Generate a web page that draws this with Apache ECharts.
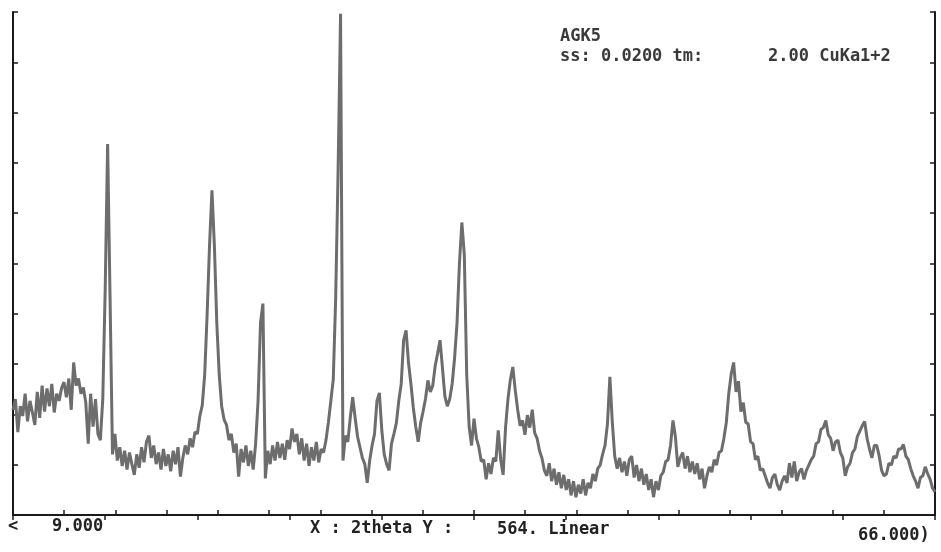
<!DOCTYPE html>
<html>
<head>
<meta charset="utf-8">
<script src="https://cdn.jsdelivr.net/npm/echarts@6/dist/echarts.min.js"></script>
<style>
  html, body { margin: 0; padding: 0; background: #fff; }
  #chart { width: 941px; height: 552px; }
</style>
</head>
<body>
<div id="chart"></div>
<script>
// scan settings (2theta start / end / step) and full scale
const startAngle = 9
const endAngle = 66
const stepSize = 0.15
const yFullScale = 564

// counts, one per step
const counts = [
  118, 130, 93, 122, 111, 136, 105, 128, 115, 101,
  138, 109, 145, 116, 142, 122, 147, 115, 136, 128,
  142, 149, 132, 153, 118, 171, 145, 153, 136, 143,
  126, 80, 136, 99, 130, 91, 84, 130, 253, 416,
  244, 68, 91, 61, 76, 55, 72, 51, 70, 57,
  45, 68, 53, 76, 59, 82, 89, 64, 78, 57,
  70, 51, 74, 55, 68, 49, 72, 57, 76, 43,
  64, 78, 68, 86, 76, 93, 91, 111, 123, 157,
  224, 302, 364, 302, 215, 157, 122, 107, 101, 84,
  91, 70, 80, 43, 74, 59, 78, 55, 72, 51,
  80, 128, 215, 237, 41, 72, 57, 78, 61, 82,
  64, 80, 62, 84, 74, 97, 82, 91, 68, 86,
  61, 80, 55, 76, 61, 82, 59, 74, 70, 84,
  104, 128, 152, 244, 388, 562, 61, 89, 82, 109,
  132, 109, 88, 76, 64, 57, 36, 61, 78, 91,
  128, 137, 95, 68, 57, 50, 80, 91, 103, 128,
  147, 196, 207, 171, 147, 120, 99, 82, 103, 116,
  130, 151, 138, 145, 167, 181, 196, 165, 133, 122,
  130, 147, 176, 215, 282, 328, 292, 157, 99, 78,
  108, 86, 76, 60, 62, 40, 58, 46, 64, 60,
  95, 62, 45, 98, 130, 152, 166, 140, 118, 100,
  106, 90, 112, 98, 118, 92, 86, 72, 64, 50,
  44, 58, 38, 52, 34, 48, 30, 45, 28, 40,
  22, 38, 20, 34, 24, 40, 22, 36, 30, 46,
  38, 52, 56, 68, 78, 102, 155, 104, 66, 52,
  64, 48, 60, 44, 62, 66, 42, 56, 38, 52,
  34, 46, 28, 40, 20, 38, 28, 44, 48, 60,
  62, 78, 106, 88, 54, 64, 70, 52, 66, 48,
  60, 46, 58, 40, 52, 30, 44, 54, 48, 62,
  56, 70, 72, 86, 104, 136, 158, 171, 138, 150,
  116, 126, 104, 102, 82, 80, 62, 66, 50, 52,
  44, 36, 30, 42, 46, 34, 28, 38, 44, 36,
  58, 42, 60, 38, 48, 52, 40, 50, 56, 62,
  66, 80, 82, 96, 98, 106, 90, 86, 72, 82,
  84, 70, 64, 44, 54, 58, 70, 74, 88, 94,
  100, 105, 86, 74, 64, 78, 78, 66, 50, 44,
  46, 58, 56, 66, 64, 74, 74, 79, 66, 62,
  52, 44, 38, 30, 42, 44, 54, 46, 40, 30,
  26
]

const headerLines = ['AGK5', 'ss: 0.0200 tm:', '2.00 CuKa1+2']
const footerTexts = ['<', '9.000', 'X : 2theta Y :', '564. Linear', '66.000)']

const points = counts.map((c, i) => [+(startAngle + i * stepSize).toFixed(2), c])

const monoFont = '"DejaVu Sans Mono", "Liberation Mono", monospace'
const axisBlack = { lineStyle: { color: '#1a1a1a', width: 2 } }
const tickStyle = { inside: true, length: 5, lineStyle: { color: '#1a1a1a', width: 1.5 } }

const options = {
  animation: false,
  backgroundColor: '#fff',
  grid: { left: 13, right: 6, top: 12, bottom: 37 },
  xAxis: [
    {
      type: 'value',
      min: startAngle,
      max: endAngle,
      interval: (endAngle - startAngle) / 18,
      position: 'bottom',
      axisLine: axisBlack,
      axisTick: tickStyle,
      axisLabel: { show: false },
      splitLine: { show: false }
    },
    {
      type: 'value',
      min: startAngle,
      max: endAngle,
      interval: (endAngle - startAngle) / 10,
      position: 'top',
      axisLine: axisBlack,
      axisTick: tickStyle,
      axisLabel: { show: false },
      splitLine: { show: false }
    }
  ],
  yAxis: [
    {
      type: 'value',
      min: 0,
      max: yFullScale,
      interval: yFullScale / 10,
      position: 'left',
      axisLine: { show: true, ...axisBlack },
      axisTick: { show: true, ...tickStyle },
      axisLabel: { show: false },
      splitLine: { show: false }
    },
    {
      type: 'value',
      min: 0,
      max: yFullScale,
      interval: yFullScale / 10,
      position: 'right',
      axisLine: { show: true, ...axisBlack },
      axisTick: { show: true, ...tickStyle },
      axisLabel: { show: false },
      splitLine: { show: false }
    }
  ],
  graphic: [
    { type: 'text', left: 560, top: 28, style: { text: headerLines[0], font: 'bold 17px ' + monoFont, fill: '#3a3a3a' } },
    { type: 'text', left: 560, top: 48, style: { text: headerLines[1], font: 'bold 17px ' + monoFont, fill: '#3a3a3a' } },
    { type: 'text', left: 768, top: 48, style: { text: headerLines[2], font: 'bold 17px ' + monoFont, fill: '#3a3a3a' } },
    { type: 'text', left: 8, top: 518, style: { text: footerTexts[0], font: 'bold 17px ' + monoFont, fill: '#222' } },
    { type: 'text', left: 52, top: 518, style: { text: footerTexts[1], font: 'bold 17px ' + monoFont, fill: '#222' } },
    { type: 'text', left: 310, top: 520, style: { text: footerTexts[2], font: 'bold 17px ' + monoFont, fill: '#222' } },
    { type: 'text', left: 497, top: 521, style: { text: footerTexts[3], font: 'bold 17px ' + monoFont, fill: '#222' } },
    { type: 'text', left: 858, top: 527, style: { text: footerTexts[4], font: 'bold 17px ' + monoFont, fill: '#222' } }
  ],
  series: [
    {
      type: 'line',
      xAxisIndex: 0,
      yAxisIndex: 0,
      showSymbol: false,
      data: points,
      lineStyle: { color: '#6d6d6d', width: 3 }
    }
  ]
}

const chart = echarts.init(document.getElementById('chart'))
chart.setOption(options)
window.addEventListener('resize', function () {
  chart && chart.resize()
})
</script>
</body>
</html>
